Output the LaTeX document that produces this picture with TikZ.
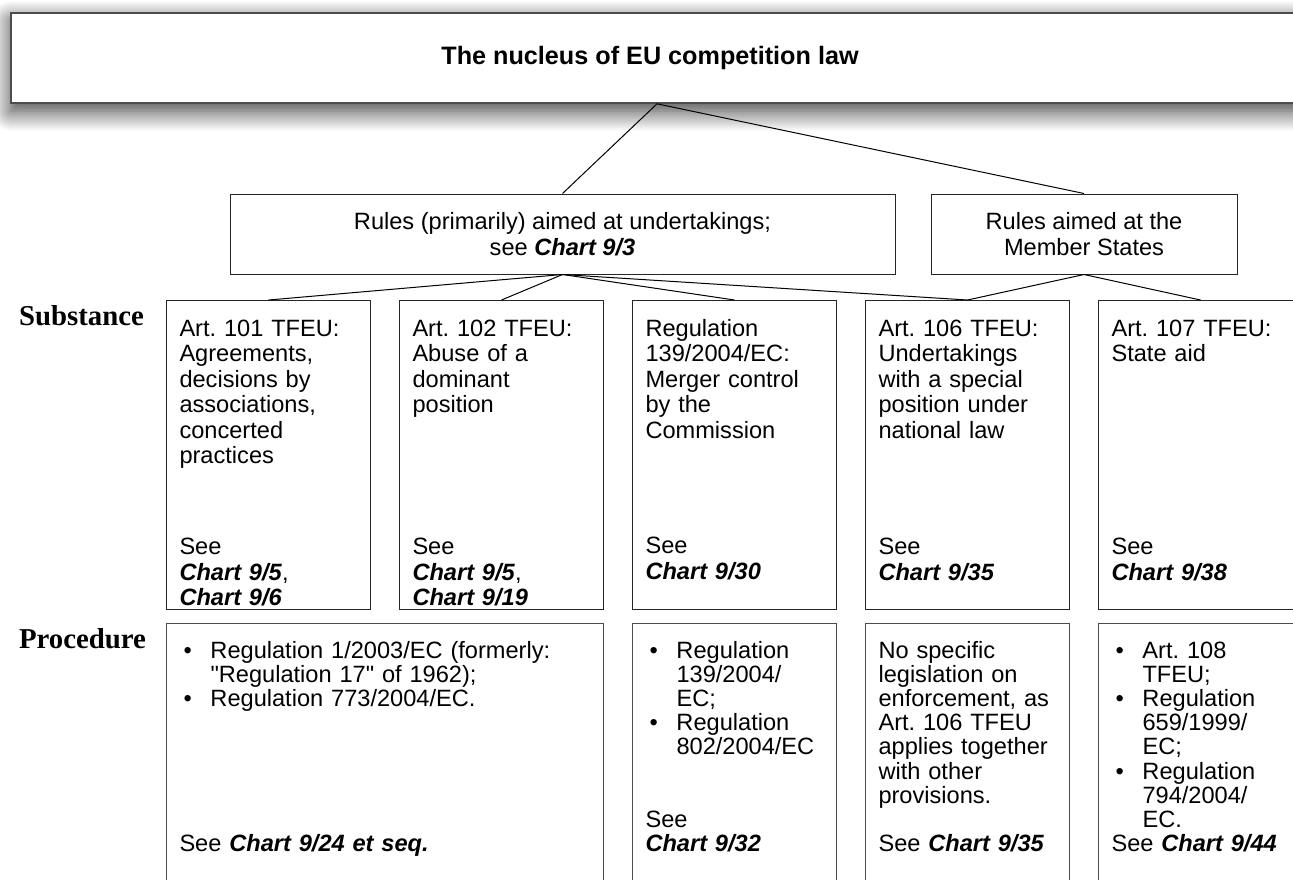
\documentclass[tikz,border=0pt]{standalone}
\usepackage{fontspec}
\setmainfont{Liberation Sans}
\newfontfamily\rowfont{Liberation Serif}
\usetikzlibrary{positioning, shadows.blur}
\frenchspacing
\newcommand{\chart}[1]{\textbf{\textit{#1}}}
\newcommand{\bul}{\hspace*{2pt}\makebox[13.5pt][l]{\textbullet}}
\newcommand{\ind}{\hspace*{15.5pt}}
% body at the top, the "See" lines at a fixed depth
\newcommand{\substtext}[2]{\parbox[t][108.3pt][t]{\linewidth}{#1}\\#2}

\begin{document}
\begin{tikzpicture}[x=0.5pt, y=-0.5pt,
    every node/.style={font=\fontsize{11.8}{12.75}\selectfont},
    headbox/.style={draw=black!85, line width=0.5pt, minimum height=40pt,
      align=center, inner sep=2pt},
    subst/.style={draw=black!85, line width=0.5pt, text width=89pt,
      inner xsep=6.5pt, inner ysep=0pt, align=left,
      text height=17.75pt, text depth=136.5pt},
    proc/.style={subst, draw=black!70, font=\fontsize{11.8}{12.05}\selectfont,
      text height=17.75pt, text depth=130pt},
    rowlabel/.style={font=\rowfont\bfseries\fontsize{14.4}{16}\selectfont,
      anchor=base west},
    link/.style={draw=black, line width=0.5pt},
    node distance=14pt,
  ]
  \useasboundingbox (0,0) rectangle (1293,879);

  % top of the tree
  \node[draw=black!70, line width=0.8pt, fill=white, minimum width=646pt,
    minimum height=45pt,
    blur shadow={shadow xshift=0pt, shadow yshift=-4pt, shadow blur steps=20,
      shadow blur radius=10pt, shadow opacity=80},
    font=\bfseries\fontsize{12.6}{14}\selectfont] (nucleus) at (657,58)
    {The nucleus of EU competition law\hspace*{7pt}};
  \node[headbox, minimum width=332.5pt] (firms) at (562.5,234)
    {Rules (primarily) aimed at undertakings;\\see \chart{Chart 9/3}};
  \node[headbox, minimum width=153pt] (states) at (1084,234)
    {Rules aimed at the\\Member States};

  % substance
  \node[rowlabel] (substance) at (12,325) {Substance};
  \node[subst, anchor=north west] (art101) at (166,300)
    {\substtext{Art. 101 TFEU:\\Agreements,\\decisions by\\associations,\\concerted\\practices}{See\\\chart{Chart 9/5},\\\chart{Chart 9/6}}};
  \node[subst, right=of art101] (art102)
    {\substtext{Art. 102 TFEU:\\Abuse of a\\dominant\\position}{See\\\chart{Chart 9/5},\\\chart{Chart 9/19}}};
  \node[subst, right=of art102] (art103)
    {\substtext{Regulation\\139/2004/EC:\\Merger control\\by the\\Commission}{See\\\chart{Chart 9/30}}};
  \node[subst, right=of art103] (art106)
    {\substtext{Art. 106 TFEU:\\Undertakings\\with a special\\position under\\national law}{See\\\chart{Chart 9/35}}};
  \node[subst, right=of art106] (art107)
    {\substtext{Art. 107 TFEU:\\State aid}{See\\\chart{Chart 9/38}}};

  % procedure
  \node[rowlabel] (procedure) at (12,648) {Procedure};
  \node[proc, below=6.5pt of art101.south west, anchor=north west, text width=205.5pt] (reg1)
    {\bul Regulation 1/2003/EC (formerly:\\\ind \textquotedbl Regulation 17\textquotedbl\ of 1962);\\\bul Regulation 773/2004/EC.\\[5\baselineskip]See \chart{Chart 9/24 et seq.}};
  \node[proc, below=6.5pt of art103.south west, anchor=north west] (reg2)
    {\bul Regulation\\\ind 139/2004/\\\ind EC;\\\bul Regulation\\\ind 802/2004/EC\\[2\baselineskip]See\\\chart{Chart 9/32}};
  \node[proc, below=6.5pt of art106.south west, anchor=north west] (reg3)
    {No specific\\legislation on\\enforcement, as\\Art. 106 TFEU\\applies together\\with other\\provisions.\\[\baselineskip]See \chart{Chart 9/35}};
  \node[proc, below=6.5pt of art107.south west, anchor=north west] (reg4)
    {\bul Art. 108\\\ind TFEU;\\\bul Regulation\\\ind 659/1999/\\\ind EC;\\\bul Regulation\\\ind 794/2004/\\\ind EC.\\See \chart{Chart 9/44}};

  % connectors
  \draw[link] (nucleus.south) -- (firms.north);
  \draw[link] (nucleus.south) -- (states.north);
  \foreach \n in {art101, art102, art103, art106}
    \draw[link] (firms.south) -- (\n.north);
  \foreach \n in {art106, art107}
    \draw[link] (states.south) -- (\n.north);
\end{tikzpicture}
\end{document}
